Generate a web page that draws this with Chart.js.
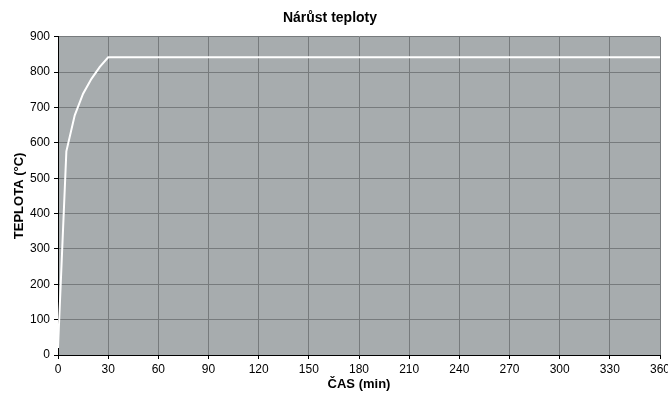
<!DOCTYPE html>
<html>
<head>
<meta charset="utf-8">
<script src="https://cdn.jsdelivr.net/npm/chart.js@4.4.0/dist/chart.umd.min.js"></script>
<style>
  html, body { margin: 0; padding: 0; background: #fff; }
  #wrap { width: 668px; height: 410px; }
</style>
</head>
<body>
<div id="wrap"><canvas id="teplota"></canvas></div>
<script>
// time in minutes and temperature in °C
const minutes = [0, 5, 10, 15, 20, 25, 30, 360];
const temps = [20, 576, 678, 739, 781, 815, 842, 842];
const xTicks = [0, 30, 60, 90, 120, 150, 180, 210, 240, 270, 300, 330, 360];

const points = minutes.map((m, i) => ({ x: m, y: temps[i] }));

// gray plot area
const plotBg = {
  id: "plotBg",
  beforeDraw(chart) {
    const a = chart.chartArea;
    const ctx = chart.ctx;
    ctx.save();
    ctx.fillStyle = "#a7acae";
    ctx.fillRect(a.left, a.top, a.right - a.left, a.bottom - a.top);
    ctx.restore();
  },
};

Chart.defaults.font.family = "'Liberation Sans', Arial, sans-serif";
Chart.defaults.color = "#000";

const chart = new Chart("teplota", {
  type: "line",
  data: {
    datasets: [
      {
        label: "Teplota",
        data: points,
        borderColor: "#ffffff",
        borderWidth: 2,
        pointRadius: 0,
        tension: 0,
        fill: false,
      },
    ],
  },
  options: {
    responsive: true,
    maintainAspectRatio: false,
    animation: false,
    layout: { padding: { left: 0, right: 8, top: 0, bottom: 0 } },
    plugins: {
      legend: { display: false },
      tooltip: { enabled: false },
      title: {
        display: true,
        text: "Nárůst teploty",
        font: { size: 14, weight: "bold" },
        padding: { top: 10, bottom: 10 },
      },
    },
    scales: {
      x: {
        type: "linear",
        min: 0,
        max: 360,
        afterBuildTicks(scale) {
          scale.ticks = xTicks.map((v) => ({ value: v }));
        },
        grid: { color: "#777b7d", tickColor: "#000", tickLength: 4 },
        border: { color: "#000", width: 1 },
        ticks: { font: { size: 12 }, padding: 3, maxRotation: 0, autoSkip: false },
        title: {
          display: true,
          text: "ČAS (min)",
          font: { size: 13, weight: "bold" },
          padding: { top: 4, bottom: 18 },
        },
        afterFit(scale) {
          scale.height = 55;
          scale.paddingRight = 0;
        },
      },
      y: {
        min: 0,
        max: 900,
        ticks: { stepSize: 100, font: { size: 12 }, padding: 4 },
        grid: { color: "#777b7d", tickColor: "#000", tickLength: 4 },
        border: { color: "#000", width: 1 },
        title: {
          display: true,
          text: "TEPLOTA (°C)",
          font: { size: 13, weight: "bold" },
          padding: { top: 12, bottom: 0 },
        },
        afterFit(scale) { scale.width = 58; },
      },
    },
  },
  plugins: [plotBg],
});
</script>
</body>
</html>
